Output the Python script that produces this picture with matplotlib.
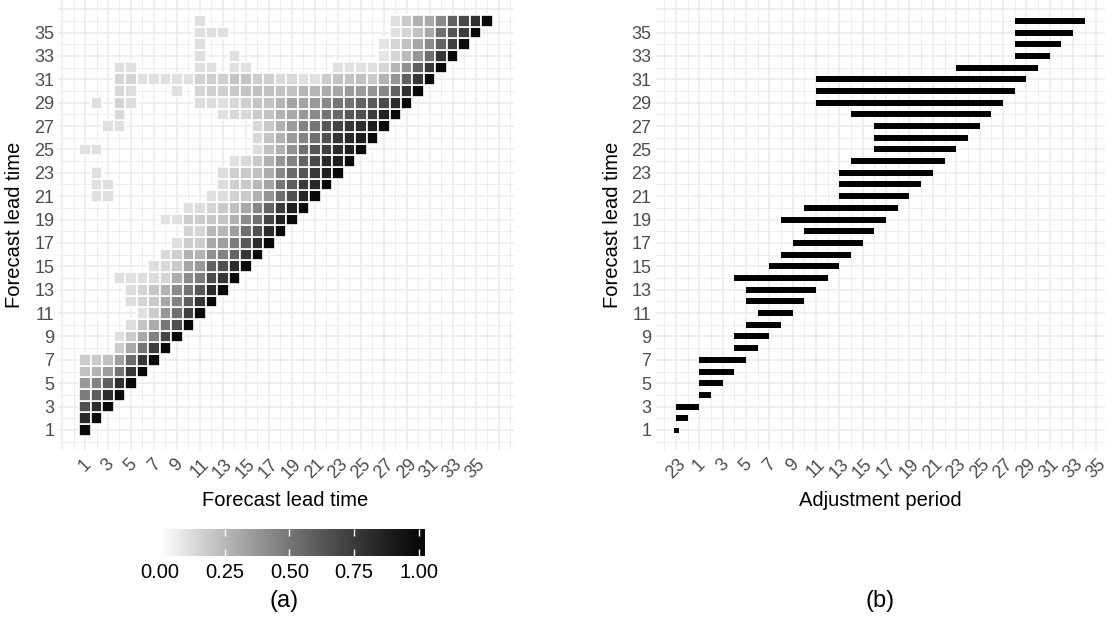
import numpy as np
import matplotlib
matplotlib.use('Agg')
import matplotlib.pyplot as plt
from matplotlib.colors import ListedColormap, Normalize
from matplotlib.patches import Rectangle
from matplotlib.collections import PatchCollection

plt.rcParams['font.family'] = ['Liberation Sans', 'DejaVu Sans']

lead_time = list(range(1, 37))

# (a) one run of tiles per lead time, from run_start up to the lead time itself
run_start = [1, 1, 1, 1, 1, 1, 1, 4, 4, 5, 6, 5, 5, 4, 7, 8, 9, 10, 8, 10,
             12, 13, 13, 14, 16, 16, 16, 13, 11, 11, 4, 23, 27, 27, 28, 28]
run_values = [
    [1.0],
    [0.83, 1.0],
    [0.66, 0.82, 1.0],
    [0.48, 0.60, 0.82, 1.0],
    [0.37, 0.45, 0.60, 0.80, 1.0],
    [0.22, 0.27, 0.36, 0.51, 0.77, 1.0],
    [0.18, 0.19, 0.22, 0.34, 0.55, 0.77, 1.0],
    [0.18, 0.31, 0.51, 0.73, 1.0],
    [0.11, 0.18, 0.31, 0.46, 0.71, 1.0],
    [0.12, 0.21, 0.30, 0.50, 0.66, 1.0],
    [0.11, 0.18, 0.38, 0.53, 0.73, 1.0],
    [0.12, 0.15, 0.19, 0.31, 0.45, 0.60, 0.77, 1.0],
    [0.12, 0.15, 0.20, 0.27, 0.42, 0.51, 0.63, 0.83, 1.0],
    [0.11, 0.11, 0.11, 0.12, 0.15, 0.29, 0.42, 0.48, 0.68, 0.77, 1.0],
    [0.12, 0.14, 0.19, 0.32, 0.37, 0.58, 0.66, 0.83, 1.0],
    [0.14, 0.17, 0.27, 0.27, 0.40, 0.45, 0.58, 0.77, 1.0],
    [0.11, 0.18, 0.18, 0.31, 0.35, 0.48, 0.63, 0.82, 1.0],
    [0.15, 0.15, 0.25, 0.25, 0.35, 0.53, 0.66, 0.83, 1.0],
    [0.11, 0.11, 0.18, 0.18, 0.20, 0.21, 0.28, 0.42, 0.53, 0.71, 0.87, 1.0],
    [0.11, 0.12, 0.15, 0.19, 0.22, 0.31, 0.43, 0.58, 0.75, 0.88, 1.0],
    [0.11, 0.12, 0.16, 0.19, 0.28, 0.39, 0.54, 0.66, 0.85, 1.0],
    [0.12, 0.17, 0.19, 0.25, 0.33, 0.50, 0.60, 0.75, 0.84, 1.0],
    [0.12, 0.17, 0.19, 0.22, 0.30, 0.43, 0.55, 0.64, 0.77, 0.89, 1.0],
    [0.11, 0.14, 0.19, 0.28, 0.38, 0.45, 0.58, 0.69, 0.83, 0.89, 1.0],
    [0.12, 0.22, 0.28, 0.40, 0.53, 0.64, 0.73, 0.82, 0.89, 1.0],
    [0.14, 0.21, 0.28, 0.36, 0.45, 0.53, 0.66, 0.77, 0.84, 0.89, 1.0],
    [0.14, 0.19, 0.28, 0.36, 0.45, 0.51, 0.63, 0.71, 0.77, 0.82, 0.89, 1.0],
    [0.11, 0.14, 0.14, 0.19, 0.21, 0.27, 0.31, 0.37, 0.42, 0.51, 0.56, 0.63,
     0.66, 0.75, 0.87, 1.0],
    [0.12, 0.12, 0.11, 0.14, 0.17, 0.21, 0.21, 0.27, 0.33, 0.33, 0.37, 0.43,
     0.50, 0.51, 0.58, 0.62, 0.68, 0.82, 1.0],
    [0.15, 0.17, 0.17, 0.19, 0.21, 0.22, 0.22, 0.22, 0.22, 0.26, 0.26, 0.30,
     0.31, 0.36, 0.36, 0.39, 0.43, 0.59, 0.80, 1.0],
    [0.15, 0.15, 0.11, 0.11, 0.11, 0.11, 0.11, 0.16, 0.17, 0.17, 0.21, 0.21,
     0.17, 0.17, 0.13, 0.13, 0.11, 0.11, 0.18, 0.21, 0.21, 0.22, 0.19, 0.27,
     0.38, 0.59, 0.77, 1.0],
    [0.11, 0.11, 0.11, 0.11, 0.15, 0.27, 0.40, 0.59, 0.77, 1.0],
    [0.09, 0.15, 0.24, 0.38, 0.53, 0.77, 1.0],
    [0.09, 0.15, 0.22, 0.32, 0.42, 0.58, 0.73, 1.0],
    [0.11, 0.15, 0.22, 0.31, 0.53, 0.64, 0.75, 1.0],
    [0.11, 0.19, 0.28, 0.31, 0.43, 0.59, 0.69, 0.80, 1.0],
]

# (a) scattered tiles away from the main run
extra_lead = [21, 21, 22, 22, 23, 25, 25, 27, 27, 28, 29, 29, 29, 30, 30, 30,
              32, 32, 32, 32, 32, 32, 33, 33, 34, 35, 35, 35, 36]
extra_x = [2, 3, 2, 3, 2, 1, 2, 3, 4, 4, 2, 4, 5, 4, 5, 9,
           4, 5, 11, 12, 14, 15, 11, 14, 11, 11, 12, 13, 11]
extra_value = [0.11, 0.11, 0.11, 0.11, 0.11, 0.11, 0.11, 0.11, 0.11, 0.14,
               0.11, 0.15, 0.12, 0.14, 0.12, 0.11, 0.11, 0.11, 0.11, 0.11,
               0.11, 0.11, 0.11, 0.11, 0.11, 0.11, 0.11, 0.11, 0.11]

# (b) adjustment period per lead time
adj_start = [-1, -1, -1, 1, 1, 1, 1, 4, 4, 5, 6, 5, 5, 4, 7, 8, 9, 10, 8, 10,
             13, 13, 13, 14, 16, 16, 16, 14, 11, 11, 11, 23, 28, 28, 28, 28]
adj_end = [-1, 0, 1, 2, 3, 4, 5, 6, 7, 8, 9, 10, 11, 12, 13, 14, 15, 16, 17, 18,
           19, 20, 21, 22, 23, 24, 25, 26, 27, 28, 29, 30, 31, 32, 33, 34]

# colour bar / tick labels
cbar_ticks = [0.0, 0.25, 0.5, 0.75, 1.0]
adj_labels = {-1: '23'}

W, H = 1111, 621
fig = plt.figure(figsize=(W / 100, H / 100), dpi=100)


def px_axes(left, top, right, bottom):
    return fig.add_axes([left / W, 1 - bottom / H, (right - left) / W, (bottom - top) / H])


# white -> black in CIE lightness, like ggplot's gradient
t = np.linspace(0, 1, 256)
L = 100 * (1 - t)
Y = ((L + 16) / 116) ** 3
grey = np.where(Y <= 0.0031308, 12.92 * Y, 1.055 * Y ** (1 / 2.4) - 0.055)
cmap = ListedColormap(np.column_stack([grey, grey, grey]))
norm = Normalize(0, 1)

GRID = '#EBEBEB'
TICK_COL = '#4D4D4D'
TICK_FS = 13


def style_axes(ax, xlim, ylim, xlabel_fn):
    ax.set_xlim(*xlim)
    ax.set_ylim(*ylim)
    xs = np.arange(np.ceil(xlim[0]), np.floor(xlim[1]) + 1).astype(int)
    ys = np.arange(np.ceil(ylim[0]), np.floor(ylim[1]) + 1).astype(int)
    xmaj = [v for v in xs if v % 2]
    ymaj = [v for v in ys if v % 2]
    ax.set_xticks(xmaj)
    ax.set_xticklabels([xlabel_fn(v) for v in xmaj], rotation=45, ha='center',
                       va='top', fontsize=TICK_FS, color=TICK_COL)
    ax.set_xticks([v for v in xs if v % 2 == 0], minor=True)
    ax.set_yticks(ymaj)
    ax.set_yticklabels([str(v) if 1 <= v <= 35 else '' for v in ymaj],
                       fontsize=TICK_FS, color=TICK_COL)
    ax.set_yticks([v for v in ys if v % 2 == 0], minor=True)
    ax.grid(which='major', color=GRID, lw=1.1)
    ax.grid(which='minor', color=GRID, lw=0.6)
    ax.set_axisbelow(True)
    ax.tick_params(which='both', length=0)
    ax.tick_params(axis='x', pad=4)
    ax.tick_params(axis='y', pad=3)
    for s in ax.spines.values():
        s.set_visible(False)


# ---- panel (a)
ax_a = px_axes(58.6, 0.4, 513.6, 450.4)
tiles, vals = [], []
for lt, s, vs in zip(lead_time, run_start, run_values):
    for x, v in zip(range(s, lt + 1), vs):
        tiles.append(Rectangle((x - 0.5, lt - 0.5), 1, 1))
        vals.append(v)
for lt, x, v in zip(extra_lead, extra_x, extra_value):
    tiles.append(Rectangle((x - 0.5, lt - 0.5), 1, 1))
    vals.append(v)
pc = PatchCollection(tiles, cmap=cmap, norm=norm, edgecolor='white', linewidth=1.2)
pc.set_array(np.array(vals))
ax_a.add_collection(pc)
style_axes(ax_a, (-1.3, 38.3), (-0.75, 37.75),
           lambda v: str(v) if 1 <= v <= 35 else '')

# colour bar
cax = px_axes(160, 529, 425, 556)
grad = np.linspace(0, 1.025, 400)
cax.imshow(grad[None, :], cmap=cmap, norm=norm, aspect='auto',
           extent=[0, 1.025, 0, 1])
cax.set_xlim(0, 1.025)
cax.set_yticks([])
cax.set_xticks(cbar_ticks)
cax.set_xticklabels(['%.2f' % v for v in cbar_ticks], fontsize=14.5)
cax.tick_params(axis='x', direction='in', length=5, width=1, color='white',
                top=True, bottom=True, pad=5)
for s in cax.spines.values():
    s.set_visible(False)

# ---- panel (b)
ax_b = px_axes(655.6, 0.4, 1105, 450.4)
starts = np.array(adj_start)
ends = np.array(adj_end)
lt_arr = np.array(lead_time)
ax_b.hlines(lt_arr, starts, ends, color='black', lw=4.3, capstyle='butt')
zero = starts == ends
ax_b.plot(starts[zero], lt_arr[zero], 's', color='black', ms=3.6, mew=0)
style_axes(ax_b, (-2.75, 35.75), (-0.75, 37.75),
           lambda v: adj_labels.get(v, str(v)))

# titles
def px_text(x, y, s, **kw):
    fig.text(x / W, 1 - y / H, s, **kw)


px_text(285.5, 506, 'Forecast lead time', ha='center', va='baseline', fontsize=14.5)
px_text(880, 506, 'Adjustment period', ha='center', va='baseline', fontsize=14.5)
px_text(15, 225, 'Forecast lead time', ha='center', va='center', rotation=90, fontsize=14.5)
px_text(612, 225, 'Forecast lead time', ha='center', va='center', rotation=90, fontsize=14.5)
px_text(284, 601, '(a)', ha='center', va='center', fontsize=17)
px_text(880, 601, '(b)', ha='center', va='center', fontsize=17)

fig.savefig('out.png', dpi=100)
